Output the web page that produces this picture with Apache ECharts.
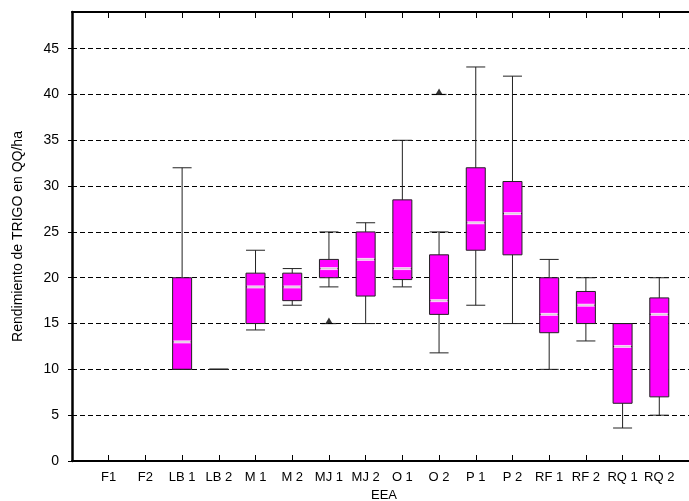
<!DOCTYPE html>
<html>
<head>
<meta charset="utf-8">
<script src="https://cdn.jsdelivr.net/npm/echarts@6/dist/echarts.min.js"></script>
<style>html,body{margin:0;padding:0;background:#fff}#c{width:689px;height:501px}</style>
</head>
<body>
<div id="c"></div>
<script>
const categories = ['F1','F2','LB 1','LB 2','M 1','M 2','MJ 1','MJ 2','O 1','O 2','P 1','P 2','RF 1','RF 2','RQ 1','RQ 2'];
const boxMin    = [null, null, 10, 10, 14.3, 17,   19, 15, 19,   11.8, 17, 15,   10, 13.1, 3.6, 5];
const boxQ1     = [null, null, 10, 10, 15,   17.5, 20, 18, 19.8, 16,   23, 22.5, 14, 15,   6.3, 7];
const boxMedian = [null, null, 13, 10, 19,   19,   21, 22, 21,   17.5, 26, 27,   16, 17,   12.5, 16];
const boxQ3     = [null, null, 20, 10, 20.5, 20.5, 22, 25, 28.5, 22.5, 32, 30.5, 20, 18.5, 15, 17.8];
const boxMax    = [null, null, 32, 10, 23,   21,   25, 26, 35,   25,   43, 42,   22, 20,   15, 20];
const outlierCats   = ['MJ 1', 'O 2'];
const outlierValues = [15, 40];
const yTicks = [0, 5, 10, 15, 20, 25, 30, 35, 40, 45];

const axisCats = [''].concat(categories, ['']);
const boxData = [];
const medData = [];
categories.forEach((c, i) => {
  if (boxMin[i] == null) return;
  boxData.push([c, boxMin[i], boxQ1[i], boxMedian[i], boxQ3[i], boxMax[i]]);
  if (boxQ3[i] > boxQ1[i]) medData.push([c, boxMedian[i]]);
});
const outData = outlierCats.map((c, i) => [c, outlierValues[i]]);

const font = "'Liberation Sans', Arial, sans-serif";
const chart = echarts.init(document.getElementById('c'), null, {renderer: 'canvas'});
chart.setOption({
  animation: false,
  backgroundColor: '#fff',
  grid: {left: 72, top: 12, bottom: 40, right: -7, containLabel: false, outerBoundsMode: 'none'},
  xAxis: [{
    type: 'category',
    data: axisCats,
    boundaryGap: false,
    position: 'bottom',
    name: 'EEA',
    nameLocation: 'middle',
    nameGap: 24,
    nameTextStyle: {color: '#000', fontSize: 13, fontFamily: font},
    axisLine: {lineStyle: {color: '#000', width: 2}},
    axisTick: {inside: true, length: 6, lineStyle: {color: '#000'}, interval: (i, v) => v !== ''},
    axisLabel: {interval: 0, color: '#000', fontSize: 13, fontFamily: font, margin: 10},
    splitLine: {show: false}
  }, {
    type: 'category',
    data: axisCats,
    boundaryGap: false,
    position: 'top',
    axisLine: {lineStyle: {color: '#000', width: 2}},
    axisTick: {inside: true, length: 6, lineStyle: {color: '#000'}, interval: (i, v) => v !== ''},
    axisLabel: {show: false},
    splitLine: {show: false}
  }],
  yAxis: {
    type: 'value',
    min: 0,
    max: 49,
    interval: 5,
    name: 'Rendimiento de TRIGO en QQ/ha',
    nameLocation: 'middle',
    nameGap: 47,
    nameTextStyle: {color: '#000', fontSize: 14, fontFamily: font},
    axisLine: {show: true, lineStyle: {color: '#000', width: 2.5}},
    axisTick: {show: true, inside: false, length: 4, lineStyle: {color: '#000'}},
    axisLabel: {color: '#000', fontSize: 14, fontFamily: font, margin: 13, showMaxLabel: false,
      formatter: v => (yTicks.indexOf(v) >= 0 ? String(v) : '')},
    splitLine: {show: true, lineStyle: {color: '#000', width: 1, type: [5, 3]}}
  },
  series: [{
    type: 'boxplot',
    xAxisIndex: 0,
    data: boxData,
    encode: {x: 0, y: [1, 2, 3, 4, 5]},
    boxWidth: [19, 19],
    itemStyle: {color: '#ff00ff', borderColor: '#222', borderWidth: 1},
    z: 3
  }, {
    type: 'scatter',
    data: medData,
    symbol: 'rect',
    symbolSize: [17, 3],
    itemStyle: {color: '#fff'},
    z: 5
  }, {
    type: 'scatter',
    data: outData,
    symbol: 'rect',
    symbolSize: [15, 1.2],
    itemStyle: {color: '#000'},
    z: 5
  }, {
    type: 'scatter',
    data: outData,
    symbol: 'triangle',
    symbolSize: [7, 6],
    symbolOffset: [0, -3],
    itemStyle: {color: '#000'},
    z: 6
  }]
});
</script>
</body>
</html>
